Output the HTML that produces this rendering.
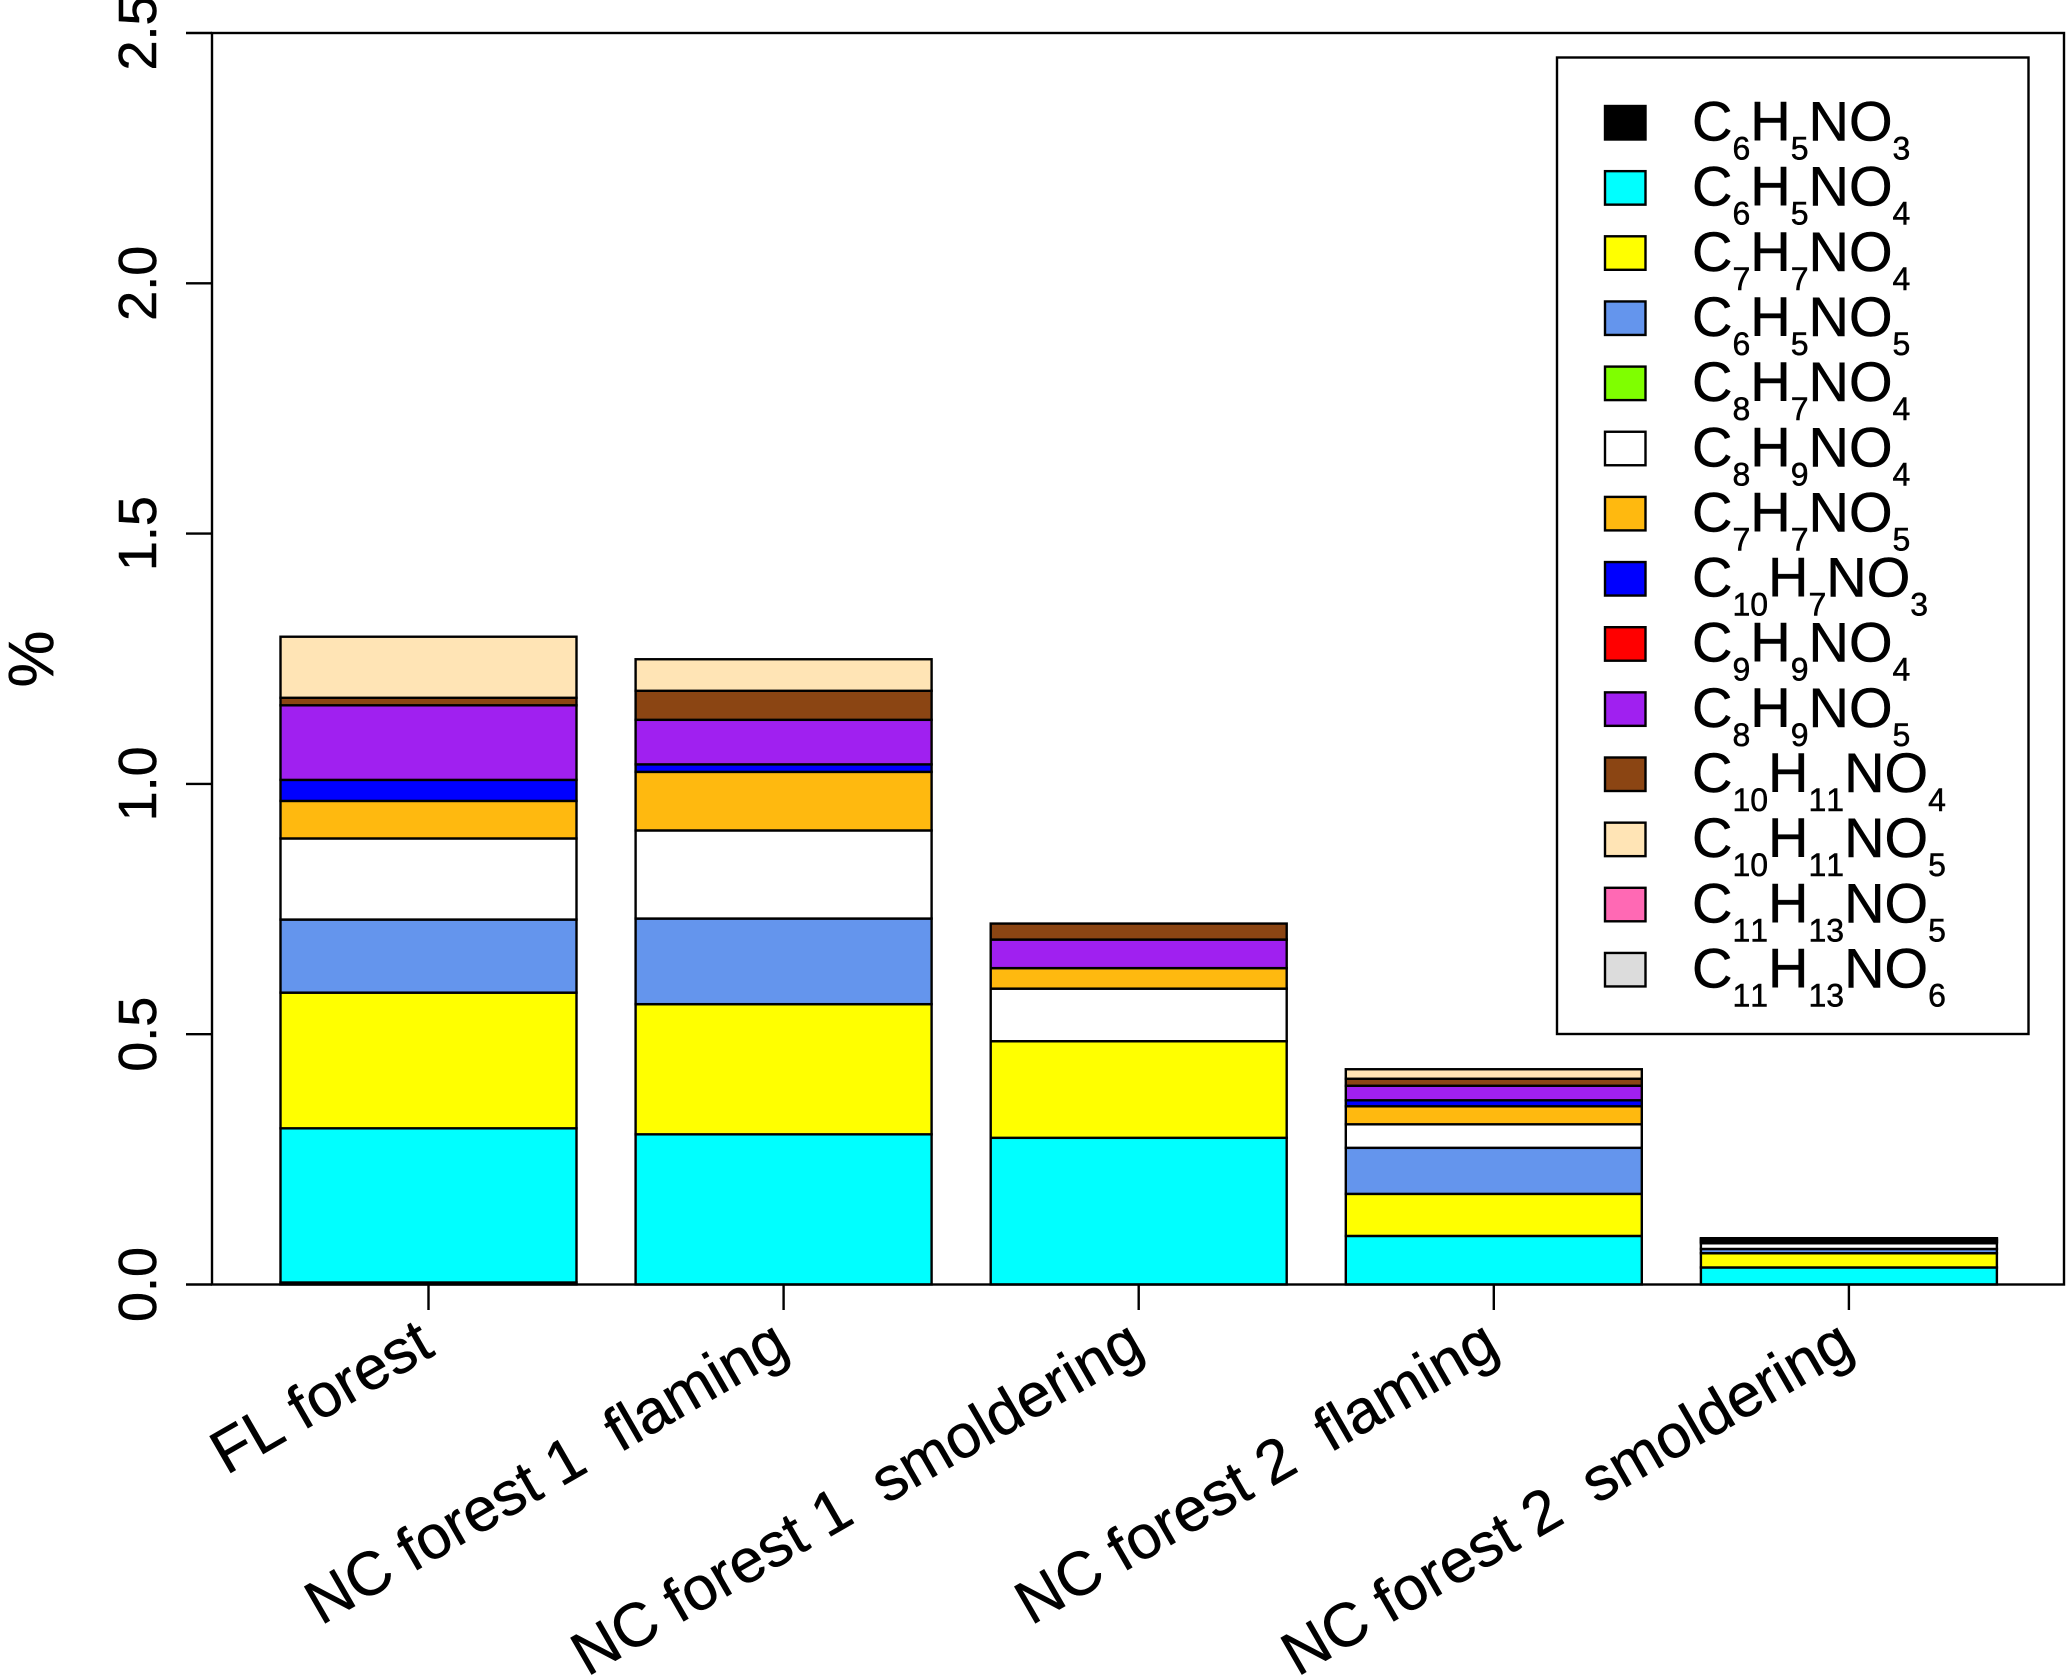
<!DOCTYPE html>
<html lang="en">
<head>
<meta charset="utf-8">
<title>Stacked bar chart of nitroaromatic species</title>
<style>
  html, body { margin: 0; padding: 0; background: #fff; }
  svg { display: block; }
  text { font-family: "Liberation Sans", Arial, sans-serif; fill: #000; white-space: pre; stroke: #000; stroke-width: 0.5; font-kerning: none; font-variant-ligatures: none; }
</style>
</head>
<body>
<svg id="chart" xmlns="http://www.w3.org/2000/svg" width="2067" height="1676" viewBox="0 0 2067 1676"></svg>
<script>
// ---- chart data ----
const categories = ["FL forest", "NC forest 1  flaming", "NC forest 1  smoldering", "NC forest 2  flaming", "NC forest 2  smoldering"];
const yTickLabels = ["0.0", "0.5", "1.0", "1.5", "2.0", "2.5"];
const yTickValues = [0, 0.5, 1, 1.5, 2, 2.5];
const yAxisTitle = "%";

const C6H5NO3   = [0.004, 0,     0,     0,     0];
const C6H5NO4   = [0.308, 0.300, 0.293, 0.097, 0.034];
const C7H7NO4   = [0.271, 0.260, 0.193, 0.084, 0.0285];
const C6H5NO5   = [0.146, 0.171, 0,     0.092, 0.0085];
const C8H7NO4   = [0,     0,     0,     0,     0];
const C8H9NO4   = [0.162, 0.176, 0.105, 0.047, 0.0115];
const C7H7NO5   = [0.075, 0.117, 0.041, 0.036, 0.003];
const C10H7NO3  = [0.042, 0.015, 0,     0.012, 0.001];
const C9H9NO4   = [0,     0,     0,     0,     0];
const C8H9NO5   = [0.149, 0.089, 0.057, 0.029, 0.003];
const C10H11NO4 = [0.015, 0.058, 0.032, 0.014, 0.002];
const C10H11NO5 = [0.122, 0.063, 0,     0.019, 0.001];
const C11H13NO5 = [0,     0,     0,     0,     0];
const C11H13NO6 = [0,     0,     0,     0,     0];

const seriesValues = [C6H5NO3, C6H5NO4, C7H7NO4, C6H5NO5, C8H7NO4, C8H9NO4, C7H7NO5, C10H7NO3, C9H9NO4, C8H9NO5, C10H11NO4, C10H11NO5, C11H13NO5, C11H13NO6];
const seriesColors = ["#000000", "#00ffff", "#ffff00", "#6495ed", "#7fff00", "#ffffff", "#ffb90f", "#0000ff", "#ff0000", "#a020f0", "#8b4513", "#ffe4b5", "#ff69b4", "#dcdcdc"];
const seriesFormulas = [
  [["C","6"],["H","5"],["NO","3"]],
  [["C","6"],["H","5"],["NO","4"]],
  [["C","7"],["H","7"],["NO","4"]],
  [["C","6"],["H","5"],["NO","5"]],
  [["C","8"],["H","7"],["NO","4"]],
  [["C","8"],["H","9"],["NO","4"]],
  [["C","7"],["H","7"],["NO","5"]],
  [["C","10"],["H","7"],["NO","3"]],
  [["C","9"],["H","9"],["NO","4"]],
  [["C","8"],["H","9"],["NO","5"]],
  [["C","10"],["H","11"],["NO","4"]],
  [["C","10"],["H","11"],["NO","5"]],
  [["C","11"],["H","13"],["NO","5"]],
  [["C","11"],["H","13"],["NO","6"]]
];

// ---- layout & axis functions ----
const NS = "http://www.w3.org/2000/svg";
const svg = document.getElementById("chart");
const plotLeft = 212, plotRight = 2064, plotTop = 33, plotBottom = 1284.5;
const yMax = 2.5;
const barWidth = 296, barPitch = 355.1, barStart = 280.5;
const yScale = v => plotBottom - (v / yMax) * (plotBottom - plotTop);
const xBarLeft = i => barStart + barPitch * i;
const xBarCenter = i => xBarLeft(i) + barWidth / 2;

function el(tag, attrs, parent) {
  const e = document.createElementNS(NS, tag);
  for (const k in attrs) e.setAttribute(k, attrs[k]);
  (parent || svg).appendChild(e);
  return e;
}

// ---- stacked bars ----
const barsGroup = el("g", {});


categories.forEach((cat, i) => {
  let cum = 0;
  seriesValues.forEach((vals, s) => {
    const v = vals[i];
    const yTop = yScale(cum + v);
    const yBot = yScale(cum);
    const r = el("rect", {
      x: xBarLeft(i), y: yTop, width: barWidth, height: Math.max(yBot - yTop, 0),
      fill: seriesColors[s], stroke: "#000", "stroke-width": 2.4
    }, barsGroup);
    
    
    cum += v;
  });
});

// ---- frame ----
const frame = el("rect", {
  x: plotLeft, y: plotTop, width: plotRight - plotLeft, height: plotBottom - plotTop,
  fill: "none", stroke: "#000", "stroke-width": 2.4
});



// ---- y axis ----
yTickValues.forEach((v, i) => {
  const y = yScale(v);
  const t = el("line", { x1: 186, x2: plotLeft, y1: y, y2: y, stroke: "#000", "stroke-width": 2.4 });
  
  
  const l = el("text", {
    transform: "translate(156 " + y + ") rotate(-90)",
    "text-anchor": "middle", "font-size": 54
  });
  l.textContent = yTickLabels[i];
  
  
});
const yTitle = el("text", {
  transform: "translate(53 659) rotate(-90)",
  "text-anchor": "middle", "font-size": 64
});
yTitle.textContent = yAxisTitle;



// ---- x axis ----
categories.forEach((cat, i) => {
  const x = xBarCenter(i);
  const t = el("line", { x1: x, x2: x, y1: plotBottom, y2: 1310, stroke: "#000", "stroke-width": 2.4 });
  
  
  const l = el("text", {
    transform: "translate(" + (x + 8) + " 1354) rotate(-30)",
    "text-anchor": "end", "font-size": 61.5
  });
  l.textContent = cat;
  
  
});

// ---- legend ----
const legendGroup = el("g", {});


const legendBox = el("rect", { x: 1557, y: 57.5, width: 471.5, height: 976.5, fill: "#fff", stroke: "#000", "stroke-width": 2.4 }, legendGroup);


const legendRowPitch = 65.15;
seriesFormulas.forEach((parts, s) => {
  const top = 106 + legendRowPitch * s;
  const sw = el("rect", { x: 1605, y: top, width: 40.5, height: 33.5, fill: seriesColors[s], stroke: "#000", "stroke-width": 2.4 }, legendGroup);
  
  
  const txt = el("text", { x: 1692, y: top + 34.5, "font-size": 56 }, legendGroup);
  
  
  parts.forEach(p => {
    const big = el("tspan", { "font-size": 56 }, txt);
    big.textContent = p[0];
    const sub = el("tspan", { "font-size": 32, dy: 19 }, txt);
    sub.textContent = p[1];
    const reset = el("tspan", { "font-size": 56, dy: -19 }, txt);
    reset.textContent = "\u200b";
  });
});
</script>
</body>
</html>
